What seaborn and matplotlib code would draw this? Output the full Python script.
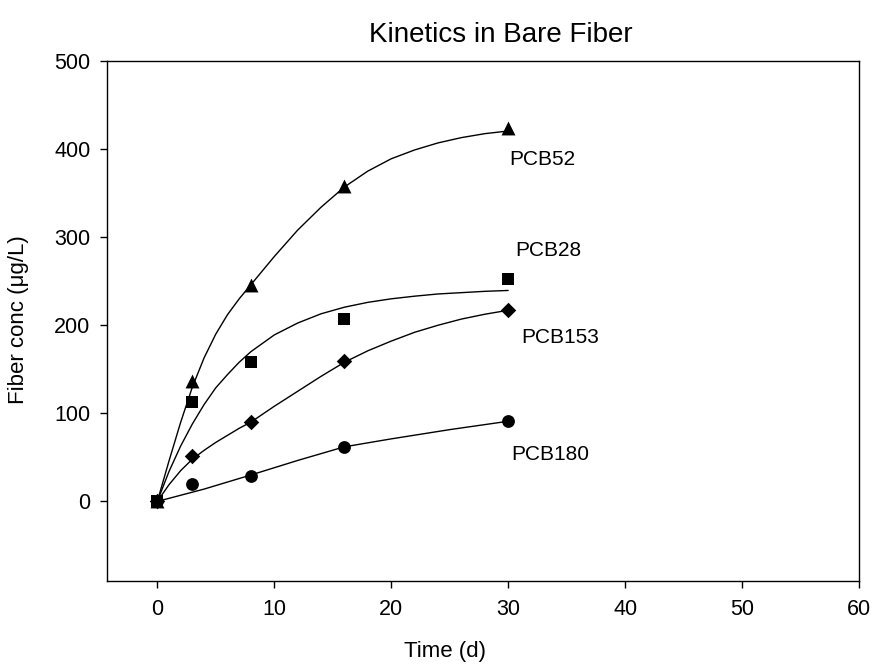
import matplotlib
matplotlib.use("Agg")
import matplotlib.pyplot as plt
import seaborn as sns
import pandas as pd

# measured points
time_days = [0, 3, 8, 16, 30]
pcb52 = [0, 137, 246, 358, 424]
pcb28 = [0, 113, 158, 207, 253]
pcb153 = [0, 51, 90, 159, 217]
pcb180 = [0, 20, 29, 62, 91]

# fitted curves
fit_t = [0, 1, 2, 3, 4, 5, 6, 7, 8, 10, 12, 14, 16, 18, 20, 22, 24, 26, 28, 30]
fit52 = [0, 46, 90, 130, 163, 190, 212, 230, 246, 278, 308, 334, 357, 375, 389, 399, 407, 413, 417.5, 420.5]
fit28 = [0, 34, 63, 88, 110, 129, 144, 158, 170, 189, 202.5, 213, 220.5, 226, 230, 233, 235.5, 237, 238.5, 239.5]
fit153 = [0, 19, 35, 48, 58, 67, 75, 83, 90, 108, 125, 142, 158, 171, 182, 192, 200, 207, 212.5, 217]
fit180_t = [0, 4, 8, 12, 16, 20, 25, 30]
fit180 = [0, 14, 30, 46.5, 62, 71, 81.5, 91]

names = ["PCB52", "PCB28", "PCB153", "PCB180"]
markers = ["^", "s", "D", "o"]
sizes = [100, 80, 62, 85]

sns.set_style("ticks")
plt.rcParams['font.family'] = ['Liberation Sans', 'DejaVu Sans']
plt.rcParams['text.color'] = 'black'
plt.rcParams['xtick.color'] = 'black'
plt.rcParams['ytick.color'] = 'black'

fig = plt.figure(figsize=(8.73, 6.68), dpi=100)
ax = fig.add_axes([0.1226, 0.1307, 0.8614, 0.778])

curves = [(fit_t, fit52), (fit_t, fit28), (fit_t, fit153), (fit180_t, fit180)]
for t, v in curves:
    sns.lineplot(x=t, y=v, color="black", lw=1.0, sort=False, estimator=None, ax=ax)

points = [pcb52, pcb28, pcb153, pcb180]
for vals, m, s in zip(points, markers, sizes):
    sns.scatterplot(x=time_days, y=vals, marker=m, s=s, color="black",
                    edgecolor="black", linewidth=0, ax=ax, zorder=3)

label_pos = [(30.1, 388), (30.6, 285), (31.1, 186), (30.3, 53)]
for name, (lx, ly) in zip(names, label_pos):
    ax.text(lx, ly, name, fontsize=15, ha="left", va="center", color="black")

ax.set_xlim(-4.3, 60)
ax.set_ylim(-90, 500)
ax.set_xticks(range(0, 61, 10))
ax.set_yticks(range(0, 501, 100))
ax.tick_params(direction="out", length=5, width=1, labelsize=15.5, colors="black")
ax.tick_params(axis="x", pad=8)
ax.tick_params(axis="y", pad=7)
for sp in ax.spines.values():
    sp.set_color("black")
    sp.set_linewidth(1.0)
ax.set_xlabel("")
ax.set_ylabel("")

fig.text(501 / 873, 1 - 35 / 668, "Kinetics in Bare Fiber", fontsize=20, ha="center", va="center")
fig.text(445 / 873, 1 - 652 / 668, "Time (d)", fontsize=16, ha="center", va="center")
fig.text(19 / 873, 1 - 320 / 668, "Fiber conc (μg/L)", fontsize=16, ha="center", va="center", rotation=90)

fig.savefig("out.png", dpi=100)
